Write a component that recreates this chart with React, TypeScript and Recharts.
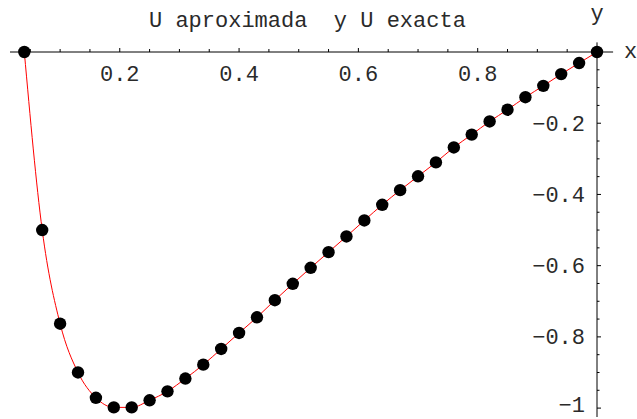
import React from 'react';
import { ComposedChart, Line, XAxis, YAxis, ReferenceLine } from 'recharts';

// grid points (x) shared by both series
const xs = [
  0.04, 0.07, 0.1, 0.13, 0.16, 0.19, 0.22, 0.25, 0.28, 0.31, 0.34,
  0.37, 0.4, 0.43, 0.46, 0.49, 0.52, 0.55, 0.58, 0.61, 0.64, 0.67,
  0.7, 0.73, 0.76, 0.79, 0.82, 0.85, 0.88, 0.91, 0.94, 0.97, 1.0,
];

// U aproximada (black dots)
const approxU = [
  0, -0.5, -0.763, -0.9, -0.971, -0.998, -0.998, -0.978, -0.953, -0.917, -0.878,
  -0.834, -0.789, -0.745, -0.697, -0.651, -0.606, -0.562, -0.518, -0.473, -0.429, -0.388,
  -0.349, -0.31, -0.268, -0.232, -0.195, -0.162, -0.127, -0.095, -0.062, -0.031, 0,
];

// U exacta (red curve)
const exactU = [
  0, -0.5, -0.763, -0.9, -0.971, -0.998, -0.998, -0.978, -0.953, -0.917, -0.878,
  -0.834, -0.789, -0.745, -0.697, -0.651, -0.606, -0.562, -0.518, -0.473, -0.429, -0.388,
  -0.349, -0.31, -0.268, -0.232, -0.195, -0.162, -0.127, -0.095, -0.062, -0.031, 0,
];

const xMajorTicks = [0.2, 0.4, 0.6, 0.8];
const xTickLabels = ['0.2', '0.4', '0.6', '0.8'];
const xAllTicks = [
  0.05, 0.1, 0.15, 0.2, 0.25, 0.3, 0.35, 0.4, 0.45, 0.5,
  0.55, 0.6, 0.65, 0.7, 0.75, 0.8, 0.85, 0.9, 0.95,
];

const yMajorTicks = [-0.2, -0.4, -0.6, -0.8, -1];
const yTickLabels = ['\u22120.2', '\u22120.4', '\u22120.6', '\u22120.8', '\u22121'];
const yAllTicks = [
  -0.05, -0.1, -0.15, -0.2, -0.25, -0.3, -0.35, -0.4, -0.45, -0.5,
  -0.55, -0.6, -0.65, -0.7, -0.75, -0.8, -0.85, -0.9, -0.95, -1,
];

const titleText = 'U aproximada  y U exacta';
const xAxisName = 'x';
const yAxisName = 'y';

const approxData = xs.map((x, i) => ({ x, u: approxU[i] }));
const exactData = xs.map((x, i) => ({ x, u: exactU[i] }));

const FONT = "'Liberation Mono', 'DejaVu Sans Mono', monospace";
const TEXT_FILL = '#2a2a2a';

const findMajor = (list: number[], v: number) =>
  list.findIndex((m) => Math.abs(m - v) < 1e-9);

const XTick = (props: any) => {
  const { x, y, payload } = props;
  const idx = findMajor(xMajorTicks, payload.value);
  const len = idx >= 0 ? 4 : 3;
  return (
    <g>
      <line x1={x} x2={x} y1={y} y2={y - len} stroke="#000" strokeWidth={1} />
      {idx >= 0 && (
        <text x={x} y={y + 29} textAnchor="middle" fontFamily={FONT} fontSize={22} fill={TEXT_FILL}>
          {xTickLabels[idx]}
        </text>
      )}
    </g>
  );
};

const YTick = (props: any) => {
  const { x, y, payload } = props;
  const idx = findMajor(yMajorTicks, payload.value);
  const len = idx >= 0 ? 4 : 2.5;
  const isLast = idx === yMajorTicks.length - 1;
  return (
    <g>
      <line x1={x} x2={x + len} y1={y} y2={y} stroke="#000" strokeWidth={1} />
      {idx >= 0 && (
        <text
          x={x - 12}
          y={y + (isLast ? 4 : 7.5)}
          textAnchor="end"
          fontFamily={FONT}
          fontSize={22}
          fill={TEXT_FILL}
        >
          {yTickLabels[idx]}
        </text>
      )}
    </g>
  );
};

const Dot = (props: any) => {
  const { cx, cy } = props;
  if (cx == null || cy == null) return <g />;
  return <circle key={`d-${props.index}`} cx={cx} cy={cy} r={6.2} fill="#000" />;
};

export default function App() {
  return (
    <div style={{ position: 'absolute', left: 0, top: 0, width: 637, height: 419, background: '#fff' }}>
      <ComposedChart width={637} height={419} margin={{ top: 22, right: 10, bottom: 2, left: 10 }}>
        <XAxis
          type="number"
          dataKey="x"
          domain={[0.016, 1]}
          orientation="top"
          height={30}
          ticks={xAllTicks}
          interval={0}
          tick={(p: any) => <XTick {...p} />}
          tickLine={false}
          axisLine={false}
          tickSize={0}
          tickMargin={0}
        />
        <YAxis
          type="number"
          dataKey="u"
          domain={[-1.025, 0]}
          orientation="right"
          width={30}
          ticks={yAllTicks}
          interval={0}
          tick={(p: any) => <YTick {...p} />}
          tickLine={false}
          axisLine={false}
          tickSize={0}
          tickMargin={0}
        />
        <ReferenceLine
          segment={[{ x: 0.016, y: 0 }, { x: 1.027, y: 0 }]}
          stroke="#000"
          strokeWidth={1}
          ifOverflow="visible"
        />
        <ReferenceLine
          segment={[{ x: 1, y: 0.027 }, { x: 1, y: -1.025 }]}
          stroke="#000"
          strokeWidth={1}
          ifOverflow="visible"
        />
        <Line
          data={approxData}
          dataKey="u"
          stroke="none"
          dot={(p: any) => <Dot {...p} />}
          activeDot={false}
          isAnimationActive={false}
        />
        <Line
          data={exactData}
          dataKey="u"
          type="monotone"
          stroke="#ff0000"
          strokeWidth={1}
          dot={false}
          activeDot={false}
          isAnimationActive={false}
        />
      </ComposedChart>
      <svg
        width={637}
        height={419}
        style={{ position: 'absolute', left: 0, top: 0, pointerEvents: 'none' }}
      >
        <text x={149} y={26.5} fontFamily={FONT} fontSize={22} fill={TEXT_FILL} style={{ whiteSpace: 'pre' }}>
          {titleText}
        </text>
        <text x={597} y={19.5} textAnchor="middle" fontFamily={FONT} fontSize={22} fill={TEXT_FILL}>
          {yAxisName}
        </text>
        <text x={624} y={58} fontFamily={FONT} fontSize={22} fill={TEXT_FILL}>
          {xAxisName}
        </text>
      </svg>
    </div>
  );
}
